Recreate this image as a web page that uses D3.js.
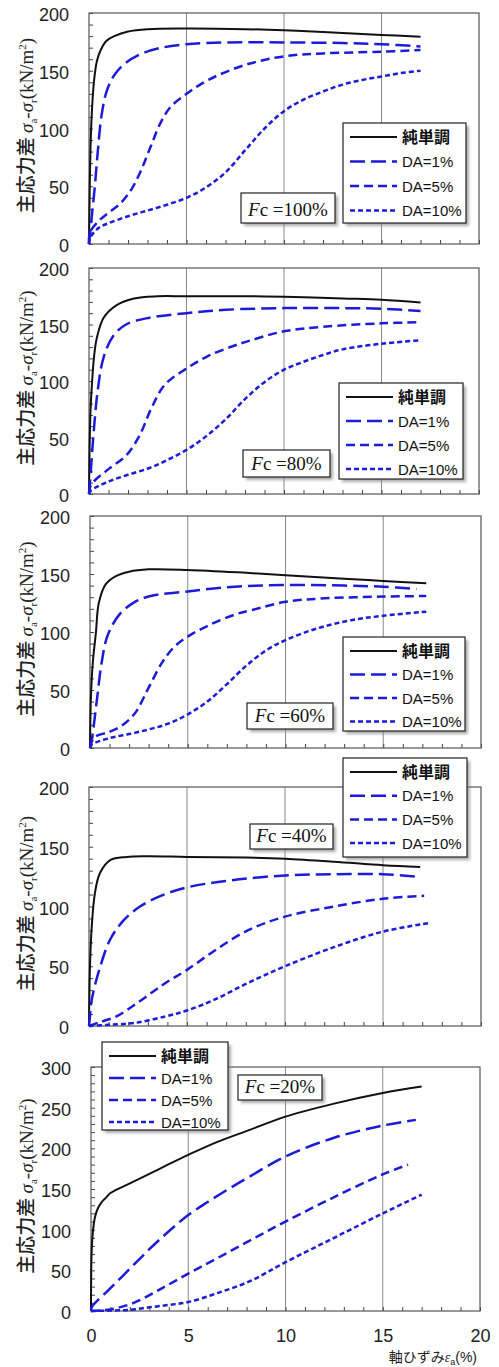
<!DOCTYPE html>
<html><head><meta charset="utf-8">
<script src="https://cdn.jsdelivr.net/npm/d3@7"></script>
<style>body{margin:0;background:#fff}</style>
</head><body>
<script>
// ---------- DATA ----------
const seriesNames = ["純単調", "DA=1%", "DA=5%", "DA=10%"];
const fcLabels = ["100%", "80%", "60%", "40%", "20%"];
const xTickLabels = [0, 5, 10, 15, 20];
const yMaxes = [200, 200, 200, 200, 300];
const yLabelStep = [50, 50, 50, 50, 50];

// Fc = 100%
const fc100_mono = [[0,0],[0.03,40],[0.08,85],[0.15,115],[0.25,140],[0.4,158],[0.6,168],[0.9,176],[1.3,180],[2,184],[3,186],[5,186.5],[8,186],[10,185],[12,183.5],[15,181],[17,179.5]];
const fc100_da1 = [[0,0],[0.05,8],[0.15,25],[0.3,50],[0.45,80],[0.65,112],[0.9,132],[1.25,145],[1.75,155],[2.6,164],[3.6,169.5],[5,173],[7,174.5],[10,174.5],[13,174],[15,173],[17,171]];
const fc100_da5 = [[0,0],[0.05,10],[0.5,20],[1,27],[1.6,35],[2.2,48],[2.7,65],[3.2,86],[3.7,106],[4.2,119],[5,130],[5.7,138],[6.6,146],[8.2,156],[10,162.5],[12,165],[15,166.5],[17,168]];
const fc100_da10 = [[0,0],[0.05,5],[0.5,14],[1,18],[2,24],[3,29],[4,34],[5,40],[6,49],[7,62],[8,81],[9,100],[10,115],[11,125],[12,132],[13,138],[14,142],[15,145],[16,148],[17,150]];

// Fc = 80%
const fc80_mono = [[0,0],[0.03,40],[0.08,75],[0.14,94],[0.25,120],[0.4,138],[0.75,156],[1.4,167],[2.3,173],[3.5,175],[5,175],[8,175],[10,174.5],[13,173],[15,172],[17,169.5]];
const fc80_da1 = [[0,0],[0.05,10],[0.2,46],[0.45,92],[0.75,121],[1.25,140],[1.9,150],[3.1,156],[5,160],[7,163],[10,164.5],[13,164.5],[15,164],[17,162]];
const fc80_da5 = [[0,0],[0.1,8],[1,22],[1.9,34],[2.6,52],[3.2,76],[3.9,97],[5,111],[6.1,122],[7.4,131],[8.3,136],[10,144],[12,148],[15,151],[17,152]];
const fc80_da10 = [[0,0],[0.1,3],[1,11],[2,17],[3.1,23],[4,30],[5,39],[6,51],[7,66],[8,84],[9,99],[10,110],[11,117],[12,123],[13,128],[15,133],[17,136]];

// Fc = 60%
const fc60_mono = [[0,0],[0.05,45],[0.15,75],[0.3,99],[0.45,125],[0.8,141],[1.3,148],[2,152],[3,154],[5,153.5],[8,151],[10,149],[13,146],[15,144],[17.2,142]];
const fc60_da1 = [[0,0],[0.1,8],[0.35,41],[0.6,74],[0.9,97],[1.5,115],[2.3,126],[3.1,131],[5,135],[7.4,139],[10,140.5],[13,140],[15,139],[16.7,137]];
const fc60_da5 = [[0,0],[0.2,9],[1,14],[1.6,19],[2.3,30],[3,52],[3.7,74],[4.3,87],[5,96],[6.1,106],[7.4,115],[8.3,119],[10,126],[12,129],[15,130.5],[17.2,131]];
const fc60_da10 = [[0,0],[0.1,3],[1,8.5],[2,12],[3,16],[4,21],[5,29],[6,40],[7,55],[8,71],[9,84],[10,93],[11.6,103],[13.3,110],[15,114],[17.2,117.5]];

// Fc = 40%
const fc40_mono = [[0,0],[0.05,50],[0.14,83],[0.3,111],[0.56,128],[1.1,139],[1.9,141.5],[3,142],[5,141.5],[8,141],[10,140],[12.5,137.5],[15,134.5],[16.9,133]];
const fc40_da1 = [[0,0],[0.05,8],[0.14,22],[0.56,49],[1.1,73],[1.8,89],[2.6,100],[3.6,108.5],[5,116],[7.3,122],[10,126],[12.5,127],[15,127],[16.7,125]];
const fc40_da5 = [[0,0],[0.5,3],[1.4,8],[2.7,22],[3.9,36],[5,47],[6.4,63],[8.1,80],[10,91.5],[12.5,100],[15,106.5],[17.1,109]];
const fc40_da10 = [[0,0],[1,1],[2.3,2.5],[3.9,8],[5,13],[6.4,22],[8.1,36],[10,50],[12.5,66],[15,79],[17.3,86]];

// Fc = 20%
const fc20_mono = [[0,0],[0.03,71],[0.1,98],[0.2,115],[0.35,126],[0.55,134],[0.8,140],[1,145],[2,157],[3,168.5],[4,180.5],[5,192],[6.5,208],[8.2,223],[10,239],[12.5,255],[15,268],[17,276]];
const fc20_da1 = [[0,0],[0.05,5],[1,28],[2,52],[3,76],[4,98],[5,118],[6,134],[7,149],[8,163],[10,190],[12.5,213],[15,228],[16.7,235]];
const fc20_da5 = [[0,0],[1,2],[2.2,10],[3.5,26],[5,46],[6.5,65],[8.2,87],[10,110],[12.5,140],[15,168],[16.3,180]];
const fc20_da10 = [[0,0],[1,0.5],[2,1.5],[3,4.5],[4,7.5],[5,11],[6.5,22],[8.2,37],[10,60],[12.5,90],[15,120],[17,143]];

const panelSeries = [
  [fc100_mono, fc100_da1, fc100_da5, fc100_da10],
  [fc80_mono, fc80_da1, fc80_da5, fc80_da10],
  [fc60_mono, fc60_da1, fc60_da5, fc60_da10],
  [fc40_mono, fc40_da1, fc40_da5, fc40_da10],
  [fc20_mono, fc20_da1, fc20_da5, fc20_da10]
];

// ---------- LAYOUT / STYLE ----------
const W = 499, H = 1367;
const frames = [
  {l:89, r:479, t:13,  b:244},
  {l:89, r:479, t:268, b:494},
  {l:90, r:481, t:516, b:748},
  {l:89, r:481, t:787, b:1026},
  {l:91, r:480, t:1067, b:1311}
];
const legendBoxes = [
  {x:343, y:123, w:123, h:100, sp:24.5},
  {x:339, y:383, w:124, h:96, sp:24},
  {x:343, y:637, w:122, h:94, sp:23.5},
  {x:343, y:758, w:124, h:99, sp:23.7},
  {x:102, y:1042, w:126, h:88, sp:22}
];
const fcBoxes = [
  {x:241, y:193, w:94, h:30},
  {x:243, y:450, w:87, h:27},
  {x:247, y:703, w:86, h:26},
  {x:250, y:824, w:83, h:25},
  {x:238, y:1075, w:84, h:25}
];
const styles = [
  {color:"#111", width:2, dash:null},
  {color:"#1c1cd8", width:2.5, dash:"15,6"},
  {color:"#1c1cd8", width:2.5, dash:"9,5"},
  {color:"#1c1cd8", width:2.5, dash:"5,3"}
];
const sansFont = "'Liberation Sans', Arial, sans-serif";
const serifFont = "'Liberation Serif', 'Times New Roman', serif";
const cjkFont = "'Noto Sans CJK JP', sans-serif";

const svg = d3.select("body").append("svg")
  .attr("width", W).attr("height", H)
  .attr("viewBox", `0 0 ${W} ${H}`);

const defs = svg.append("defs");
defs.append("filter").attr("id","shadow").attr("x","-10%").attr("y","-10%").attr("width","130%").attr("height","140%")
  .append("feGaussianBlur").attr("stdDeviation", 1.5);

function shadowBox(g, b) {
  g.append("rect").attr("x", b.x+3).attr("y", b.y+3).attr("width", b.w).attr("height", b.h)
    .attr("fill", "#888").attr("opacity", 0.7).attr("filter","url(#shadow)");
  g.append("rect").attr("x", b.x).attr("y", b.y).attr("width", b.w).attr("height", b.h)
    .attr("fill", "#fff").attr("stroke", "#222").attr("stroke-width", 1.2);
}

frames.forEach((f, pi) => {
  const g = svg.append("g");
  const x = d3.scaleLinear().domain([0, 20]).range([f.l, f.r]);
  const y = d3.scaleLinear().domain([0, yMaxes[pi]]).range([f.b, f.t]);

  // vertical gridlines at major x
  g.selectAll("line.grid").data(xTickLabels.filter(v => v > 0 && v < 20)).join("line")
    .attr("x1", d => x(d)).attr("x2", d => x(d)).attr("y1", f.t).attr("y2", f.b)
    .attr("stroke", "#8a8a8a").attr("stroke-width", 1);

  // x minor ticks (inside)
  const xAxis = d3.axisBottom(x).tickValues(d3.range(0, 21, 1)).tickSizeInner(-4).tickSizeOuter(0).tickFormat("");
  const gx = g.append("g").attr("transform", `translate(0,${f.b})`).call(xAxis);
  gx.select(".domain").remove();
  gx.selectAll(".tick line").attr("stroke", "#444");

  // y ticks (inside) + labels
  const yAxis = d3.axisLeft(y).tickValues(d3.range(0, yMaxes[pi] + 1, 10))
    .tickSizeInner(-4).tickSizeOuter(0).tickPadding(20)
    .tickFormat(d => d % yLabelStep[pi] === 0 ? d : "");
  const gy = g.append("g").attr("transform", `translate(${f.l},0)`).call(yAxis);
  gy.select(".domain").remove();
  gy.selectAll(".tick line").attr("stroke", "#444");
  gy.selectAll(".tick text").attr("font-family", sansFont).attr("font-size", 18).attr("fill", "#222").attr("dy", "0.42em");

  // x labels on last panel
  if (pi === frames.length - 1) {
    const xl = d3.axisBottom(x).tickValues(xTickLabels).tickSize(0).tickPadding(18);
    const gxl = g.append("g").attr("transform", `translate(0,${f.b})`).call(xl);
    gxl.select(".domain").remove();
    gxl.selectAll(".tick text").attr("font-family", sansFont).attr("font-size", 18).attr("fill", "#222");
    const t = g.append("text").attr("x", 477).attr("y", 1362).attr("text-anchor", "end")
      .attr("font-size", 14).attr("fill", "#222");
    t.append("tspan").attr("font-family", cjkFont).text("軸ひずみ");
    t.append("tspan").attr("font-family", serifFont).attr("font-style","italic").text("ε");
    t.append("tspan").attr("font-family", sansFont).attr("font-size", 9).attr("dy", 3).text("a");
    t.append("tspan").attr("font-family", sansFont).attr("dy", -3).text("(%)");
  }

  // frame
  g.append("rect").attr("x", f.l).attr("y", f.t).attr("width", f.r - f.l).attr("height", f.b - f.t)
    .attr("fill", "none").attr("stroke", "#555").attr("stroke-width", 1.2);

  // curves
  const line = d3.line().x(d => x(d[0])).y(d => y(d[1])).curve(d3.curveCatmullRom.alpha(0.5));
  panelSeries[pi].forEach((s, si) => {
    g.append("path").datum(s).attr("d", line)
      .attr("fill", "none").attr("stroke", styles[si].color).attr("stroke-width", styles[si].width)
      .attr("stroke-dasharray", styles[si].dash).attr("stroke-linejoin","round");
  });

  // y axis title
  const cy = (f.t + f.b) / 2 - 3;
  const yt = g.append("text").attr("transform", `translate(33,${cy}) rotate(-90)`)
    .attr("text-anchor", "middle").attr("fill", "#222");
  yt.append("tspan").attr("font-family", cjkFont).attr("font-size", 19).attr("font-weight", 500).text("主応力差 ");
  yt.append("tspan").attr("font-family", serifFont).attr("font-size", 19).attr("font-style","italic").text("σ");
  yt.append("tspan").attr("font-family", serifFont).attr("font-size", 11).attr("dy", 4).text("a");
  yt.append("tspan").attr("font-family", serifFont).attr("font-size", 19).attr("dy", -4).text("-");
  yt.append("tspan").attr("font-family", serifFont).attr("font-size", 19).attr("font-style","italic").text("σ");
  yt.append("tspan").attr("font-family", serifFont).attr("font-size", 11).attr("dy", 4).text("r");
  yt.append("tspan").attr("font-family", serifFont).attr("font-size", 19).attr("dy", -4).text("(kN/m");
  yt.append("tspan").attr("font-family", serifFont).attr("font-size", 11).attr("dy", -7).text("2");
  yt.append("tspan").attr("font-family", serifFont).attr("font-size", 19).attr("dy", 7).text(")");

  // Fc box
  const fb = fcBoxes[pi];
  shadowBox(g, fb);
  const ft = g.append("text").attr("x", fb.x + fb.w / 2).attr("y", fb.y + fb.h - 7)
    .attr("text-anchor", "middle").attr("font-family", serifFont).attr("font-size", 19).attr("fill", "#111");
  ft.append("tspan").attr("font-style", "italic").text("F");
  ft.append("tspan").text("c =" + fcLabels[pi]);

  // legend
  const lb = legendBoxes[pi];
  shadowBox(g, lb);
  seriesNames.forEach((nm, si) => {
    const ly = lb.y + 14 + si * lb.sp;
    g.append("line").attr("x1", lb.x + 7).attr("x2", lb.x + 54).attr("y1", ly).attr("y2", ly)
      .attr("stroke", styles[si].color).attr("stroke-width", styles[si].width)
      .attr("stroke-dasharray", styles[si].dash);
    g.append("text").attr("x", lb.x + 59).attr("y", ly + 5.5)
      .attr("font-family", si === 0 ? cjkFont : sansFont)
      .attr("font-size", si === 0 ? 16 : 15).attr("font-weight", si === 0 ? 700 : 400)
      .attr("fill", "#111").text(nm);
  });
});
</script>
</body></html>
